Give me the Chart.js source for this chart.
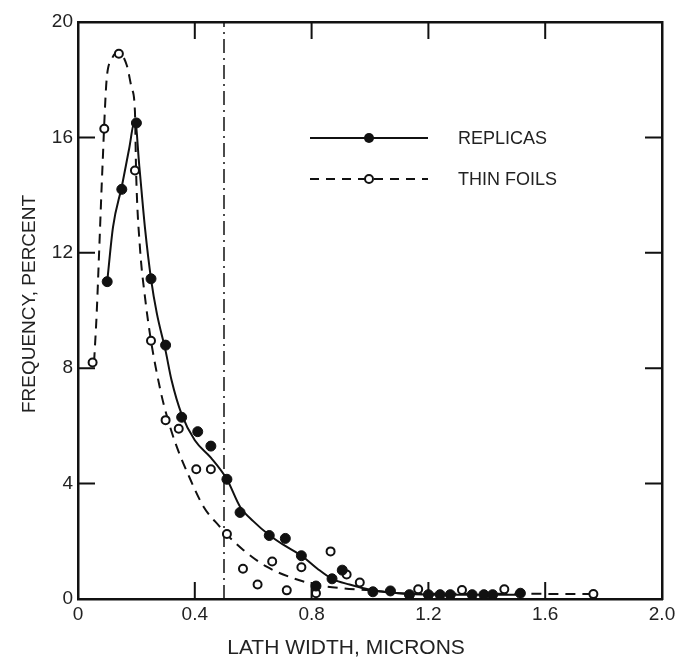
<!DOCTYPE html>
<html>
<head>
<meta charset="utf-8">
<script src="https://cdn.jsdelivr.net/npm/chart.js@4.4.1/dist/chart.umd.min.js"></script>
<style>
    html, body { margin: 0; padding: 0; background: #fff; }
    #wrap { width: 676px; height: 663px; }
</style>
</head>
<body>
<div id="wrap"><canvas id="lathChart" width="676" height="663"></canvas></div>
<script>
// Axes
const xTicks = [0, 0.4, 0.8, 1.2, 1.6, 2.0];
const yTicks = [0, 4, 8, 12, 16, 20];

// Replicas - measured points
const replicasX = [0.10, 0.15, 0.20, 0.25, 0.30, 0.355, 0.41, 0.455, 0.51, 0.555, 0.655, 0.71, 0.765, 0.815, 0.87, 0.905,
    1.01, 1.07, 1.135, 1.20, 1.24, 1.275, 1.35, 1.39, 1.42, 1.515];
const replicasY = [11.0, 14.2, 16.5, 11.1, 8.8, 6.3, 5.8, 5.3, 4.15, 3.0, 2.2, 2.1, 1.5, 0.45, 0.7, 1.0,
    0.25, 0.28, 0.15, 0.15, 0.15, 0.15, 0.15, 0.15, 0.15, 0.2];

// Thin foils - measured points
const foilsX = [0.05, 0.09, 0.14, 0.195, 0.25, 0.30, 0.345, 0.405, 0.455, 0.51, 0.565, 0.615, 0.665, 0.715, 0.765, 0.815,
    0.865, 0.92, 0.965, 1.165, 1.315, 1.46, 1.765];
const foilsY = [8.2, 16.3, 18.9, 14.85, 8.95, 6.2, 5.9, 4.5, 4.5, 2.25, 1.05, 0.5, 1.3, 0.3, 1.1, 0.2,
    1.65, 0.85, 0.57, 0.34, 0.31, 0.34, 0.17];

// Fitted curves
const replicasCurveX = [0.10, 0.12, 0.15, 0.175, 0.195, 0.21, 0.23, 0.25, 0.27, 0.30, 0.32, 0.355, 0.40, 0.455, 0.51,
    0.555, 0.60, 0.657, 0.70, 0.766, 0.82, 0.87, 0.93, 1.0, 1.1, 1.2, 1.5];
const replicasCurveY = [11.0, 12.9, 14.3, 15.6, 16.6, 15.0, 12.8, 11.1, 9.9, 8.6, 7.6, 6.4, 5.5, 4.9, 4.15,
    3.2, 2.7, 2.2, 1.9, 1.5, 1.05, 0.7, 0.5, 0.32, 0.2, 0.15, 0.15];

const foilsCurveX = [0.055, 0.064, 0.073, 0.081, 0.086, 0.09, 0.098, 0.115, 0.138, 0.167, 0.184, 0.195, 0.199, 0.212, 0.229,
    0.25, 0.283, 0.30, 0.332, 0.378, 0.43, 0.486, 0.508, 0.566, 0.646, 0.737, 0.817, 0.909, 1.0, 1.1, 1.3, 1.5, 1.765];
const foilsCurveY = [8.2, 9.9, 12.2, 14.3, 15.5, 16.5, 18.0, 18.7, 18.95, 18.5, 17.7, 16.9, 14.8, 12.2, 10.5,
    8.95, 7.2, 6.5, 5.45, 4.3, 3.2, 2.5, 2.25, 1.7, 1.12, 0.72, 0.49, 0.37, 0.3, 0.2, 0.18, 0.18, 0.17];

// Vertical reference line
const cutoffX = [0.5, 0.5];
const cutoffY = [0, 20];

const INK = '#111';
const FONT = '"Liberation Sans", Arial, sans-serif';

function toPoints(xs, ys) {
    return xs.map((x, i) => ({ x: x, y: ys[i] }));
}

// Inward tick marks on all four sides, axis titles and the legend box
const decorPlugin = {
    id: 'decor',
    afterDatasetsDraw(chart) {
        const ctx = chart.ctx;
        const area = chart.chartArea;
        const xs = chart.scales.x;
        const ys = chart.scales.y;
        const len = 17;

        ctx.save();
        ctx.strokeStyle = INK;
        ctx.lineWidth = 2;
        ctx.setLineDash([]);
        xTicks.slice(1, -1).forEach(v => {
            const px = xs.getPixelForValue(v);
            ctx.beginPath();
            ctx.moveTo(px, area.bottom);
            ctx.lineTo(px, area.bottom - len);
            ctx.moveTo(px, area.top);
            ctx.lineTo(px, area.top + len);
            ctx.stroke();
        });
        yTicks.slice(1, -1).forEach(v => {
            const py = ys.getPixelForValue(v);
            ctx.beginPath();
            ctx.moveTo(area.left, py);
            ctx.lineTo(area.left + len, py);
            ctx.moveTo(area.right, py);
            ctx.lineTo(area.right - len, py);
            ctx.stroke();
        });

        // legend
        ctx.lineWidth = 2;
        ctx.beginPath();
        ctx.moveTo(310, 138);
        ctx.lineTo(428, 138);
        ctx.stroke();
        ctx.fillStyle = INK;
        ctx.beginPath();
        ctx.arc(369, 138, 5, 0, Math.PI * 2);
        ctx.fill();

        ctx.setLineDash([9, 7]);
        ctx.beginPath();
        ctx.moveTo(310, 179);
        ctx.lineTo(428, 179);
        ctx.stroke();
        ctx.setLineDash([]);
        ctx.fillStyle = '#fff';
        ctx.beginPath();
        ctx.arc(369, 179, 4, 0, Math.PI * 2);
        ctx.fill();
        ctx.stroke();

        ctx.fillStyle = '#222';
        ctx.font = '18px ' + FONT;
        ctx.textAlign = 'left';
        ctx.textBaseline = 'middle';
        ctx.fillText('REPLICAS', 458, 139);
        ctx.fillText('THIN FOILS', 458, 180);

        // axis titles
        ctx.textAlign = 'center';
        ctx.font = '21px ' + FONT;
        ctx.fillText('LATH WIDTH, MICRONS', 346, 648);
        ctx.font = '19px ' + FONT;
        ctx.translate(30, 304);
        ctx.rotate(-Math.PI / 2);
        ctx.fillText('FREQUENCY, PERCENT', 0, 0);
        ctx.restore();
    }
};

const borderOpts = { display: true, color: INK, width: 2.5 };
const hiddenGrid = { drawOnChartArea: false, drawTicks: false };

new Chart(document.getElementById('lathChart'), {
    type: 'scatter',
    data: {
        datasets: [
            {
                label: 'REPLICAS',
                data: toPoints(replicasX, replicasY),
                showLine: false,
                pointRadius: 5,
                pointBackgroundColor: INK,
                pointBorderColor: INK,
                pointBorderWidth: 1,
                order: 0
            },
            {
                label: 'THIN FOILS',
                data: toPoints(foilsX, foilsY),
                showLine: false,
                pointRadius: 4,
                pointBackgroundColor: '#fff',
                pointBorderColor: INK,
                pointBorderWidth: 2,
                order: 0
            },
            {
                label: 'replicas fit',
                data: toPoints(replicasCurveX, replicasCurveY),
                showLine: true,
                borderColor: INK,
                borderWidth: 2,
                pointRadius: 0,
                cubicInterpolationMode: 'monotone',
                order: 1
            },
            {
                label: 'foils fit',
                data: toPoints(foilsCurveX, foilsCurveY),
                showLine: true,
                borderColor: INK,
                borderWidth: 2,
                borderDash: [10, 7],
                pointRadius: 0,
                cubicInterpolationMode: 'monotone',
                order: 1
            },
            {
                label: 'cutoff',
                data: toPoints(cutoffX, cutoffY),
                showLine: true,
                borderColor: INK,
                borderWidth: 1.5,
                borderDash: [14, 5, 2, 5],
                pointRadius: 0,
                order: 2
            }
        ]
    },
    options: {
        responsive: false,
        animation: false,
        layout: { padding: 0 },
        plugins: {
            legend: { display: false },
            tooltip: { enabled: false }
        },
        scales: {
            x: {
                type: 'linear',
                position: 'bottom',
                min: 0,
                max: 2,
                afterBuildTicks: s => { s.ticks = xTicks.map(v => ({ value: v })); },
                afterFit: s => { s.height = 64; s.paddingLeft = 0; s.paddingRight = 0; },
                grid: hiddenGrid,
                border: borderOpts,
                ticks: {
                    color: '#222',
                    padding: 4,
                    font: { family: FONT, size: 19 },
                    maxRotation: 0,
                    callback: v => (v === 0 ? '0' : v.toFixed(1))
                }
            },
            xTop: {
                type: 'linear',
                position: 'top',
                min: 0,
                max: 2,
                afterFit: s => { s.height = 22; },
                grid: hiddenGrid,
                border: borderOpts,
                ticks: { display: false }
            },
            y: {
                type: 'linear',
                position: 'left',
                min: 0,
                max: 20,
                afterBuildTicks: s => { s.ticks = yTicks.map(v => ({ value: v })); },
                afterFit: s => { s.width = 78; s.paddingTop = 0; s.paddingBottom = 0; },
                grid: hiddenGrid,
                border: borderOpts,
                ticks: {
                    color: '#222',
                    padding: 5,
                    font: { family: FONT, size: 19 }
                }
            },
            yRight: {
                type: 'linear',
                position: 'right',
                min: 0,
                max: 20,
                afterFit: s => { s.width = 14; },
                grid: hiddenGrid,
                border: borderOpts,
                ticks: { display: false }
            }
        }
    },
    plugins: [decorPlugin]
});
</script>
</body>
</html>
